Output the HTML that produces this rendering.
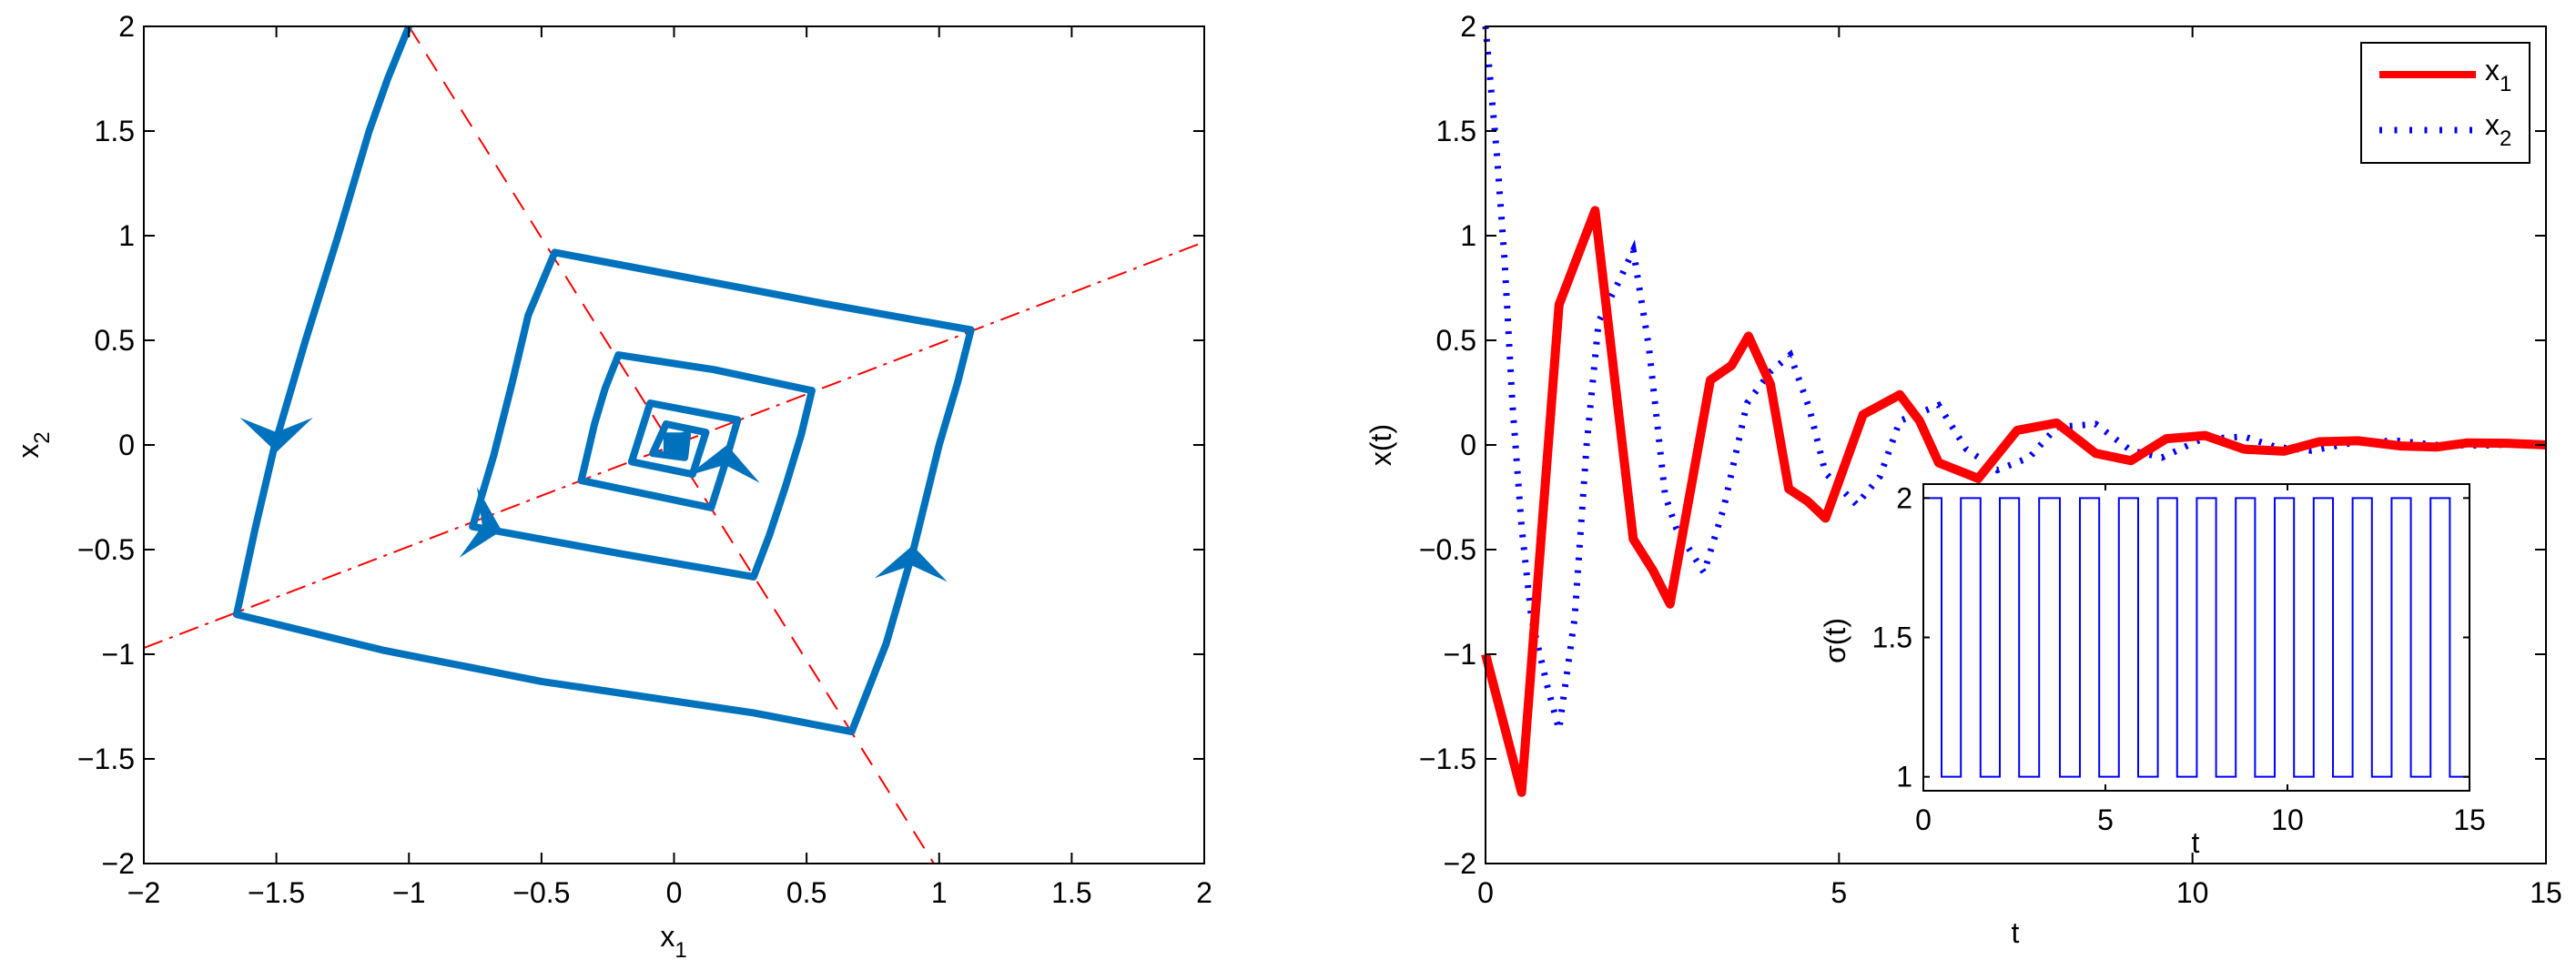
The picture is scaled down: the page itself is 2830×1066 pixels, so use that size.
<!DOCTYPE html>
<html><head><meta charset="utf-8"><style>
html,body{margin:0;padding:0;background:#fff;}
svg{display:block;font-family:"Liberation Sans",sans-serif;}
</style></head><body>
<svg id="fig" width="2830" height="1066" viewBox="0 0 2830 1066" xmlns="http://www.w3.org/2000/svg"></svg>
<script>
// ---- Left phase plot data ----
const trajX = [-1.0,-1.08,-1.15,-1.267,-1.39,-1.506,-1.58,-1.65,-1.1,-0.5,0.3,0.67,0.8,0.903,1.0,1.07,1.12,0.567,0.3,-0.45,-0.55,-0.61,-0.68,-0.76,-0.2,0.3,0.36,0.42,0.48,0.52,0.15,-0.21,-0.26,-0.30,-0.35,0.14,0.19,0.24,-0.09,-0.16,0.07,0.12,-0.03,-0.08,0.04,0.05,-0.03];
const trajY = [2.0,1.75,1.5,1.0,0.5,0.0,-0.4,-0.81,-0.98,-1.13,-1.28,-1.37,-0.95,-0.5,0.0,0.3,0.55,0.675,0.74,0.92,0.62,0.3,-0.05,-0.39,-0.52,-0.63,-0.43,-0.2,0.05,0.26,0.36,0.43,0.27,0.1,-0.17,-0.3,-0.1,0.12,0.2,-0.08,-0.14,0.06,0.1,-0.04,-0.06,0.05,0.02];
const dashLineX = [-1.0,0.98];
const dashLineY = [2.0,-2.0];
const dashDotX = [-2.0,2.0];
const dashDotY = [-0.97,0.97];
// arrowheads: tip, direction
const arrowTipX = [-1.5,0.9,-0.65,0.2];
const arrowTipY = [-0.035,-0.48,-0.41,0.0];
const arrowDirX = [0,0.05,1,0.1];
const arrowDirY = [-1,1,-0.25,1];
const phaseTicks = [-2,-1.5,-1,-0.5,0,0.5,1,1.5,2];
const phaseTickLabels = ["\u22122","\u22121.5","\u22121","\u22120.5","0","0.5","1","1.5","2"];

// ---- Right time plot data ----
const x1T = [0,0.51,1.04,1.55,2.09,2.37,2.61,3.18,3.48,3.72,4.03,4.29,4.56,4.81,5.34,5.86,6.14,6.41,6.97,7.52,8.08,8.63,9.13,9.63,10.18,10.73,11.29,11.79,12.34,12.95,13.45,13.89,14.45,15];
const x1V = [-1.0,-1.66,0.67,1.12,-0.45,-0.6,-0.76,0.31,0.38,0.52,0.29,-0.21,-0.27,-0.35,0.145,0.24,0.115,-0.085,-0.16,0.07,0.105,-0.04,-0.075,0.03,0.045,-0.02,-0.03,0.015,0.02,-0.005,-0.01,0.01,0.008,0];
const x2T = [0,0.16,0.27,0.38,0.51,0.65,0.88,1.04,1.26,1.43,1.6,1.87,2.09,2.31,2.54,2.7,3.09,3.37,3.7,4.03,4.31,4.58,4.81,5.25,5.58,5.86,6.41,6.8,7.24,7.69,8.08,8.63,9.13,9.57,10.12,10.73,11.18,11.68,12.34,12.9,13.45,14.1,15];
const x2V = [2.0,1.39,0.88,0.2,-0.39,-0.83,-1.16,-1.36,-0.83,0,0.59,0.77,0.93,0.47,-0.24,-0.4,-0.61,-0.3,0.2,0.35,0.43,0.175,-0.135,-0.285,-0.15,0.115,0.19,-0.02,-0.12,-0.06,0.085,0.1,-0.027,-0.06,0.027,0.04,-0.01,-0.027,0.015,0.02,0,-0.003,0.01];
const tTicks = [0,5,10,15];
const tTickLabels = ["0","5","10","15"];
const xtYTicks = [-2,-1.5,-1,-0.5,0,0.5,1,1.5,2];
const xtYTickLabels = ["\u22122","\u22121.5","\u22121","\u22120.5","0","0.5","1","1.5","2"];

// ---- Inset switching signal data ----
const switchTimes = [0,0.5,1.03,1.57,2.1,2.63,3.18,3.75,4.3,4.83,5.37,5.9,6.44,6.97,7.51,8.04,8.58,9.11,9.65,10.18,10.72,11.25,11.79,12.32,12.86,13.39,13.93,14.46,15];
const switchModes = [2,1,2,1,2,1,2,1,2,1,2,1,2,1,2,1,2,1,2,1,2,1,2,1,2,1,2,1];
const insetYTicks = [1,1.5,2];
const insetYTickLabels = ["1","1.5","2"];

const NS="http://www.w3.org/2000/svg";
const svg=document.getElementById('fig');
function mk(tag,attrs,parent){const e=document.createElementNS(NS,tag);for(const k in attrs)e.setAttribute(k,attrs[k]);(parent||svg).appendChild(e);return e;}
function txt(s,x,y,size,anchor,parent){const e=mk('text',{x:x,y:y,'font-size':size,'text-anchor':anchor||'middle',fill:'#000'},parent);e.textContent=s;return e;}

const L={x0:158,x1:1323,y0:29,y1:949};
const lx=v=>L.x0+(v+2)/4*(L.x1-L.x0);
const ly=v=>L.y1-(v+2)/4*(L.y1-L.y0);
const R={x0:1632,x1:2797,y0:29,y1:949};
const rx=v=>R.x0+v/15*(R.x1-R.x0);
const ry=v=>R.y1-(v+2)/4*(R.y1-R.y0);
const I={x0:2113,x1:2713,y0:532,y1:869};
const ix=v=>I.x0+v/15*(I.x1-I.x0);
const iy=v=>I.y1-(v-0.95)/1.1*(I.y1-I.y0);

// ===== Left plot =====
const gL=mk('g',{});


const dl=mk('line',{x1:lx(dashLineX[0]),y1:ly(dashLineY[0]),x2:lx(dashLineX[1]),y2:ly(dashLineY[1]),stroke:'#ff0000','stroke-width':2,'stroke-dasharray':'22 14'},gL);


const dd=mk('line',{x1:lx(dashDotX[0]),y1:ly(dashDotY[0]),x2:lx(dashDotX[1]),y2:ly(dashDotY[1]),stroke:'#ff0000','stroke-width':2,'stroke-dasharray':'22 8 4 8'},gL);


let pts=trajX.map((v,i)=>lx(v)+','+ly(trajY[i])).join(' ');
const tr=mk('polyline',{points:pts,fill:'none',stroke:'#0072bd','stroke-width':8,'stroke-linejoin':'round'},gL);


const blob=mk('rect',{x:lx(-0.04),y:ly(0.06),width:lx(0.05)-lx(-0.04),height:ly(-0.06)-ly(0.06),fill:'#0072bd',rx:3},gL);


arrowTipX.forEach((ax,i)=>{
  const tx=lx(ax),ty=ly(arrowTipY[i]);
  let dx=arrowDirX[i],dy=-arrowDirY[i];const n=Math.hypot(dx,dy);dx/=n;dy/=n;
  const px=-dy,py=dx;const len=38,w=40,nb=22;
  const p=[[tx,ty],[tx-dx*len+px*w,ty-dy*len+py*w],[tx-dx*nb,ty-dy*nb],[tx-dx*len-px*w,ty-dy*len-py*w]];
  const a=mk('polygon',{points:p.map(q=>q.join(',')).join(' '),fill:'#0072bd'},gL);
  
  
});
const bl=mk('rect',{x:L.x0,y:L.y0,width:L.x1-L.x0,height:L.y1-L.y0,fill:'none',stroke:'#000','stroke-width':2},gL);


phaseTicks.forEach((v,i)=>{
  const X=lx(v),Y=ly(v);
  mk('line',{x1:X,y1:L.y1,x2:X,y2:L.y1-12,stroke:'#000','stroke-width':2},gL);
  mk('line',{x1:X,y1:L.y0,x2:X,y2:L.y0+12,stroke:'#000','stroke-width':2},gL);
  mk('line',{x1:L.x0,y1:Y,x2:L.x0+12,y2:Y,stroke:'#000','stroke-width':2},gL);
  mk('line',{x1:L.x1,y1:Y,x2:L.x1-12,y2:Y,stroke:'#000','stroke-width':2},gL);
  const t1=txt(phaseTickLabels[i],X,992,32,'middle',gL);
  
  
  const t2=txt(phaseTickLabels[i],L.x0-10,Y+11,32,'end',gL);
  
  
});
const xl=mk('text',{x:740,y:1040,'font-size':32,'text-anchor':'middle'},gL);
xl.innerHTML='x<tspan font-size="24" dy="12">1</tspan>';


const yl=mk('text',{x:0,y:0,'font-size':32,'text-anchor':'middle',transform:'translate(42,489) rotate(-90)'},gL);
yl.innerHTML='x<tspan font-size="24" dy="12">2</tspan>';



// ===== Right plot =====
const gR=mk('g',{});


const s2=mk('polyline',{points:x2T.map((t,i)=>rx(t)+','+ry(x2V[i])).join(' '),fill:'none',stroke:'#0000ff','stroke-width':7,'stroke-dasharray':'3 11'},gR);


const s1=mk('polyline',{points:x1T.map((t,i)=>rx(t)+','+ry(x1V[i])).join(' '),fill:'none',stroke:'#ff0000','stroke-width':10,'stroke-linejoin':'round'},gR);


const br=mk('rect',{x:R.x0,y:R.y0,width:R.x1-R.x0,height:R.y1-R.y0,fill:'none',stroke:'#000','stroke-width':2},gR);


tTicks.forEach((v,i)=>{
  const X=rx(v);
  mk('line',{x1:X,y1:R.y1,x2:X,y2:R.y1-12,stroke:'#000','stroke-width':2},gR);
  mk('line',{x1:X,y1:R.y0,x2:X,y2:R.y0+12,stroke:'#000','stroke-width':2},gR);
  const t=txt(tTickLabels[i],X,992,32,'middle',gR);
  
  
});
xtYTicks.forEach((v,i)=>{
  const Y=ry(v);
  mk('line',{x1:R.x0,y1:Y,x2:R.x0+12,y2:Y,stroke:'#000','stroke-width':2},gR);
  mk('line',{x1:R.x1,y1:Y,x2:R.x1-12,y2:Y,stroke:'#000','stroke-width':2},gR);
  const t=txt(xtYTickLabels[i],R.x0-10,Y+11,32,'end',gR);
  
  
});
const tl=txt('t',2214,1036,32,'middle',gR);


const xtl=mk('text',{x:0,y:0,'font-size':32,'text-anchor':'middle',transform:'translate(1528,489) rotate(-90)'},gR);
xtl.textContent='x(t)';



// legend
const lg=mk('g',{},gR);


mk('rect',{x:2594,y:47,width:185,height:132,fill:'#fff',stroke:'#000','stroke-width':2},lg);
const le1=mk('line',{x1:2614,y1:82,x2:2720,y2:82,stroke:'#ff0000','stroke-width':8},lg);


const le2=mk('line',{x1:2614,y1:143,x2:2720,y2:143,stroke:'#0000ff','stroke-width':7,'stroke-dasharray':'3 13.5'},lg);


const lt1=mk('text',{x:2730,y:88,'font-size':32},lg);lt1.innerHTML='x<tspan font-size="24" dy="12">1</tspan>';


const lt2=mk('text',{x:2730,y:148,'font-size':32},lg);lt2.innerHTML='x<tspan font-size="24" dy="12">2</tspan>';



// inset
const gI=mk('g',{});


mk('rect',{x:I.x0,y:I.y0,width:I.x1-I.x0,height:I.y1-I.y0,fill:'#fff',stroke:'none'},gI);
let sp=[];
switchModes.forEach((m,i)=>{sp.push(ix(switchTimes[i])+','+iy(m));sp.push(ix(switchTimes[i+1])+','+iy(m));});
const sig=mk('polyline',{points:sp.join(' '),fill:'none',stroke:'#0000ff','stroke-width':2},gI);


const fi=mk('rect',{x:I.x0,y:I.y0,width:I.x1-I.x0,height:I.y1-I.y0,fill:'none',stroke:'#000','stroke-width':2},gI);


tTicks.forEach((v,i)=>{
  const X=ix(v);
  mk('line',{x1:X,y1:I.y1,x2:X,y2:I.y1-7,stroke:'#000','stroke-width':2},gI);
  mk('line',{x1:X,y1:I.y0,x2:X,y2:I.y0+7,stroke:'#000','stroke-width':2},gI);
  const t=txt(tTickLabels[i],X,912,32,'middle',gI);
  
  
});
insetYTicks.forEach((v,i)=>{
  const Y=iy(v);
  mk('line',{x1:I.x0,y1:Y,x2:I.x0+7,y2:Y,stroke:'#000','stroke-width':2},gI);
  mk('line',{x1:I.x1,y1:Y,x2:I.x1-7,y2:Y,stroke:'#000','stroke-width':2},gI);
  const t=txt(insetYTickLabels[i],I.x0-12,Y+11,32,'end',gI);
  
  
});
const itl=txt('t',2412,937,32,'middle',gI);


const isl=mk('text',{x:0,y:0,'font-size':32,'text-anchor':'middle',transform:'translate(2027,704) rotate(-90)'},gI);
isl.textContent='\u03c3(t)';


</script>
</body></html>
